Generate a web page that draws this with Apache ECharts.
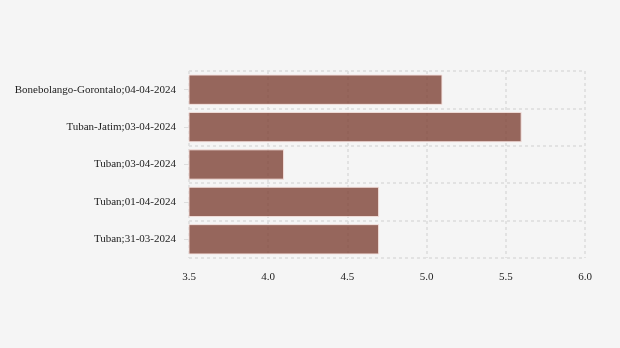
<!DOCTYPE html>
<html>
<head>
<meta charset="utf-8">
<style>
  html, body { margin: 0; padding: 0; background: #f5f5f5; }
  #chart { width: 620px; height: 348px; }
</style>
<script src="https://cdn.jsdelivr.net/npm/echarts@6/dist/echarts.min.js"></script>
</head>
<body>
<div id="chart"></div>
<script>
// Categories listed bottom to top, as the category axis draws them
const categories = [
  'Tuban;31-03-2024',
  'Tuban;01-04-2024',
  'Tuban;03-04-2024',
  'Tuban-Jatim;03-04-2024',
  'Bonebolango-Gorontalo;04-04-2024'
];
const values = [4.7, 4.7, 4.1, 5.6, 5.1];
const xTicks = { min: 3.5, max: 6.0, interval: 0.5 };

const chart = echarts.init(document.getElementById('chart'), null, { renderer: 'canvas' });
const font = '"Liberation Serif", "DejaVu Serif", serif';
const gridLine = { show: true, lineStyle: { color: '#dedede', type: [3, 3], width: 1.6 } };

chart.setOption({
  backgroundColor: '#f5f5f5',
  animation: false,
  grid: { left: 189, right: 35, top: 71, bottom: 90, containLabel: false },
  xAxis: {
    type: 'value',
    min: xTicks.min,
    max: xTicks.max,
    interval: xTicks.interval,
    axisLine: { show: false },
    axisTick: { show: false },
    splitLine: gridLine,
    axisLabel: {
      color: '#222', fontFamily: font, fontSize: 11, margin: 14,
      formatter: v => v.toFixed(1)
    }
  },
  yAxis: {
    type: 'category',
    data: categories,
    axisLine: { show: false },
    axisTick: { show: true, alignWithLabel: true, length: 5, lineStyle: { color: '#dddddd' } },
    splitLine: gridLine,
    axisLabel: { color: '#222', fontFamily: font, fontSize: 11, margin: 13, padding: [2, 0, 0, 0] }
  },
  series: [{
    type: 'bar',
    data: values,
    barWidth: '81%',
    itemStyle: {
      color: 'rgba(126,66,54,0.8)',
      borderColor: 'rgba(245,225,222,0.9)',
      borderWidth: 1
    }
  }]
});
</script>
</body>
</html>
